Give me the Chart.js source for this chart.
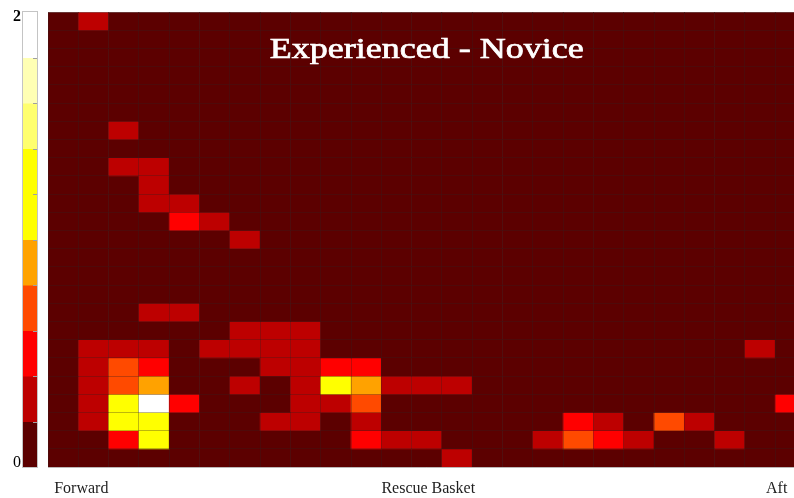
<!DOCTYPE html>
<html>
<head>
<meta charset="utf-8">
<script src="https://cdn.jsdelivr.net/npm/chart.js@4/dist/chart.umd.min.js"></script>
<style>
  html, body { margin: 0; padding: 0; background: #ffffff; overflow: hidden; }
  #wrap { position: relative; width: 810px; height: 498px; }
</style>
</head>
<body>
<div id="wrap"><canvas id="heat"></canvas></div>
<script>
// Grid columns (left = forward, right = aft) and rows (top to bottom)
const columns = ['1','2','3','4','5','6','7','8','9','10','11','12','13','14','15','16','17','18','19','20','21','22','23','24','25'];
const rowNames = ['1','2','3','4','5','6','7','8','9','10','11','12','13','14','15','16','17','18','19','20','21','22','23','24','25'];

// Difference (experienced minus novice) for each cell, one array per row, top row first
const diffRows = [
  [0,.3,0,0,0, 0,0,0,0,0, 0,0,0,0,0, 0,0,0,0,0, 0,0,0,0,0],
  [0,0,0,0,0, 0,0,0,0,0, 0,0,0,0,0, 0,0,0,0,0, 0,0,0,0,0],
  [0,0,0,0,0, 0,0,0,0,0, 0,0,0,0,0, 0,0,0,0,0, 0,0,0,0,0],
  [0,0,0,0,0, 0,0,0,0,0, 0,0,0,0,0, 0,0,0,0,0, 0,0,0,0,0],
  [0,0,0,0,0, 0,0,0,0,0, 0,0,0,0,0, 0,0,0,0,0, 0,0,0,0,0],
  [0,0,0,0,0, 0,0,0,0,0, 0,0,0,0,0, 0,0,0,0,0, 0,0,0,0,0],
  [0,0,.3,0,0, 0,0,0,0,0, 0,0,0,0,0, 0,0,0,0,0, 0,0,0,0,0],
  [0,0,0,0,0, 0,0,0,0,0, 0,0,0,0,0, 0,0,0,0,0, 0,0,0,0,0],
  [0,0,.3,.3,0, 0,0,0,0,0, 0,0,0,0,0, 0,0,0,0,0, 0,0,0,0,0],
  [0,0,0,.3,0, 0,0,0,0,0, 0,0,0,0,0, 0,0,0,0,0, 0,0,0,0,0],
  [0,0,0,.3,.3, 0,0,0,0,0, 0,0,0,0,0, 0,0,0,0,0, 0,0,0,0,0],
  [0,0,0,0,.5, .3,0,0,0,0, 0,0,0,0,0, 0,0,0,0,0, 0,0,0,0,0],
  [0,0,0,0,0, 0,.3,0,0,0, 0,0,0,0,0, 0,0,0,0,0, 0,0,0,0,0],
  [0,0,0,0,0, 0,0,0,0,0, 0,0,0,0,0, 0,0,0,0,0, 0,0,0,0,0],
  [0,0,0,0,0, 0,0,0,0,0, 0,0,0,0,0, 0,0,0,0,0, 0,0,0,0,0],
  [0,0,0,0,0, 0,0,0,0,0, 0,0,0,0,0, 0,0,0,0,0, 0,0,0,0,0],
  [0,0,0,.3,.3, 0,0,0,0,0, 0,0,0,0,0, 0,0,0,0,0, 0,0,0,0,0],
  [0,0,0,0,0, 0,.3,.3,.3,0, 0,0,0,0,0, 0,0,0,0,0, 0,0,0,0,0],
  [0,.3,.3,.3,0, .3,.3,.3,.3,0, 0,0,0,0,0, 0,0,0,0,0, 0,0,0,.3,0],
  [0,.3,.7,.5,0, 0,0,.3,.3,.5, .5,0,0,0,0, 0,0,0,0,0, 0,0,0,0,0],
  [0,.3,.7,.9,0, 0,.3,0,.3,1.1, .9,.3,.3,.3,0, 0,0,0,0,0, 0,0,0,0,0],
  [0,.3,1.1,1.9,.5, 0,0,0,.3,.3, .7,0,0,0,0, 0,0,0,0,0, 0,0,0,0,.5],
  [0,.3,1.1,1.1,0, 0,0,.3,.3,0, .3,0,0,0,0, 0,0,.5,.3,0, .7,.3,0,0,0],
  [0,0,.5,1.1,0, 0,0,0,0,0, .5,.3,.3,0,0, 0,.3,.7,.5,.3, 0,0,.3,0,0],
  [0,0,0,0,0, 0,0,0,0,0, 0,0,0,.3,0, 0,0,0,0,0, 0,0,0,0,0]
];

// Colour scale: ten equal bands from 0 to 2
const scaleMin = 0;
const scaleMax = 2;
const bandColours = ['#5c0000','#bd0000','#ff0000','#ff4a00','#ffa200','#ffff00','#ffff00','#ffff6e','#ffffb4','#ffffff'];
const scaleLabels = ['0', '2'];

const chartTitle = 'Experienced - Novice';
const axisLabels = ['Forward', 'Rescue Basket', 'Aft'];
const axisLabelColumns = [1.1, 12.55, 24.05];

function colourFor(v) {
  const n = bandColours.length;
  let i = Math.floor((v - scaleMin) / (scaleMax - scaleMin) * n);
  i = Math.max(0, Math.min(n - 1, i));
  return bandColours[i];
}

// One floating-bar dataset per row; each bar spans its row on the y scale
const datasets = rowNames.map((name, r) => ({
  label: 'Row ' + name,
  data: columns.map(() => [r, r + 1]),
  backgroundColor: diffRows[r].map(colourFor),
  borderWidth: 0,
  borderSkipped: false,
  barPercentage: 1,
  categoryPercentage: 1,
  grouped: false
}));

const serif = '"Liberation Serif", "Times New Roman", serif';

const decorations = {
  id: 'decorations',
  afterDraw(chart) {
    const { ctx, chartArea: a } = chart;
    ctx.save();

    // Title inside the plot
    ctx.fillStyle = '#ffffff';
    ctx.strokeStyle = '#ffffff';
    ctx.lineWidth = 0.7;
    ctx.font = '30px ' + serif;
    ctx.textAlign = 'center';
    ctx.textBaseline = 'alphabetic';
    const cx = (a.left + a.right) / 2;
    ctx.translate(cx, 58);
    ctx.scale(1.2, 1);
    ctx.fillText(chartTitle, 0, 0);
    ctx.strokeText(chartTitle, 0, 0);
    ctx.setTransform(1, 0, 0, 1, 0, 0);

    // Labels under the plot
    const colW = (a.right - a.left) / columns.length;
    ctx.fillStyle = '#1e1e1e';
    ctx.font = '16px ' + serif;
    axisLabels.forEach((t, i) => {
      ctx.fillText(t, a.left + axisLabelColumns[i] * colW, 493);
    });

    // Colour bar
    const bx = 23, bw = 14;
    const top = a.top, bottom = a.bottom;
    const bh = (bottom - top) / bandColours.length;
    bandColours.forEach((c, i) => {
      const y1 = bottom - (i + 1) * bh;
      ctx.fillStyle = c;
      ctx.fillRect(bx, y1, bw, bh + 0.5);
    });
    ctx.strokeStyle = '#a0a0a0';
    ctx.lineWidth = 1;
    for (let i = 1; i < bandColours.length; i++) {
      const y = Math.round(bottom - i * bh) + 0.5;
      ctx.beginPath();
      ctx.moveTo(bx + bw - 4, y);
      ctx.lineTo(bx + bw, y);
      ctx.stroke();
    }
    ctx.strokeStyle = '#c4c4c4';
    ctx.strokeRect(bx - 0.5, top - 0.5, bw + 1, bottom - top + 1);

    ctx.fillStyle = '#000000';
    ctx.textAlign = 'right';
    ctx.font = 'bold 16px ' + serif;
    ctx.fillText(scaleLabels[1], 21, top + 9);
    ctx.font = '16px ' + serif;
    ctx.fillText(scaleLabels[0], 21, bottom);
    ctx.restore();
  }
};

new Chart(document.getElementById('heat'), {
  type: 'bar',
  data: { labels: columns, datasets },
  options: {
    responsive: true,
    maintainAspectRatio: false,
    animation: false,
    events: [],
    layout: { padding: { left: 48, top: 12, right: 4.5, bottom: 31 } },
    plugins: { legend: { display: false }, tooltip: { enabled: false }, title: { display: false } },
    scales: {
      x: {
        type: 'category',
        offset: true,
        ticks: { display: false },
        border: { display: false },
        grid: { display: true, offset: true, drawTicks: false, color: 'rgba(50,30,30,0.32)', lineWidth: 1, z: 1 }
      },
      y: {
        type: 'linear',
        min: 0,
        max: rowNames.length,
        reverse: true,
        ticks: { display: false, stepSize: 1 },
        border: { display: false },
        grid: { display: true, drawTicks: false, color: 'rgba(50,30,30,0.32)', lineWidth: 1, z: 1 }
      }
    }
  },
  plugins: [decorations]
});
</script>
</body>
</html>
